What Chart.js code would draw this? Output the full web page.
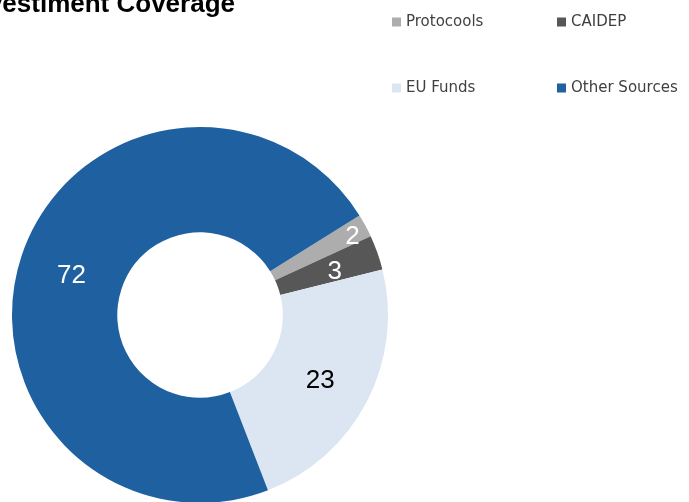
<!DOCTYPE html>
<html>
<head>
<meta charset="utf-8">
<script src="https://cdn.jsdelivr.net/npm/chart.js@4/dist/chart.umd.min.js"></script>
<style>
  html, body { margin: 0; padding: 0; background: #fff; overflow: hidden; }
  #wrap { position: relative; width: 689px; height: 506px; }
</style>
</head>
<body>
<div id="wrap"><canvas id="coverage"></canvas></div>
<script>
const categories = ['Protocools', 'CAIDEP', 'EU Funds', 'Other Sources']
const shares = [2, 3, 23, 72]
const sliceColors = ['#adadad', '#575757', '#dce6f2', '#1f61a0']
const labelColors = ['#ffffff', '#ffffff', '#000000', '#ffffff']
// where each value sits across the ring (0 = inner edge, 1 = outer edge)
const labelDepth = [0.86, 0.57, 0.5, 0.5]

const titleText = 'Investiment Coverage'

// bold heading, right end at x=235, runs off the left edge
const titlePlugin = {
    id: 'titleText',
    afterDraw: (chart) => {
        const ctx = chart.ctx
        ctx.save()
        ctx.font = 'bold 26px "Liberation Sans"'
        ctx.fillStyle = '#000'
        ctx.textAlign = 'right'
        ctx.textBaseline = 'alphabetic'
        ctx.fillText(titleText, 235, 12)
        ctx.restore()
    }
}

// two-column legend in the top right corner
const gridLegend = {
    id: 'gridLegend',
    afterDraw: (chart) => {
        const ctx = chart.ctx
        const colX = [392, 557]
        const rowY = [22, 88]
        ctx.save()
        ctx.font = '15px "DejaVu Sans"'
        ctx.textBaseline = 'middle'
        ctx.textAlign = 'left'
        chart.data.labels.forEach((label, i) => {
            const x = colX[i % 2]
            const y = rowY[Math.floor(i / 2)]
            ctx.fillStyle = chart.data.datasets[0].backgroundColor[i]
            ctx.fillRect(x, y - 4.5, 9, 9)
            ctx.fillStyle = '#404040'
            ctx.fillText(label, x + 14, y)
        })
        ctx.restore()
    }
}

// value labels on the slices
const sliceLabels = {
    id: 'sliceLabels',
    afterDatasetsDraw: (chart) => {
        const ctx = chart.ctx
        const meta = chart.getDatasetMeta(0)
        const values = chart.data.datasets[0].data
        ctx.save()
        ctx.font = '26px "Liberation Sans"'
        ctx.textAlign = 'center'
        ctx.textBaseline = 'middle'
        meta.data.forEach((arc, i) => {
            const p = arc.getProps(['x', 'y', 'startAngle', 'endAngle', 'innerRadius', 'outerRadius'], true)
            const mid = (p.startAngle + p.endAngle) / 2
            const r = p.innerRadius + (p.outerRadius - p.innerRadius) * labelDepth[i]
            ctx.fillStyle = labelColors[i]
            ctx.fillText(String(values[i]), p.x + Math.cos(mid) * r, p.y + Math.sin(mid) * r + 4)
        })
        ctx.restore()
    }
}

const data = {
    labels: categories,
    datasets: [
        {
            data: shares,
            backgroundColor: sliceColors,
            borderWidth: 0,
        }
    ]
}

const options = {
    responsive: true,
    maintainAspectRatio: false,
    animation: false,
    cutout: '44%',
    rotation: 58,
    layout: {
        padding: { left: 12, top: 127, right: 301, bottom: 3 }
    },
    plugins: {
        legend: { display: false },
        tooltip: { enabled: false },
        title: { display: false },
    },
}

const coverageDoc = document.getElementById('coverage')
const coverageChart = new Chart(coverageDoc, {
    type: 'doughnut',
    data: data,
    options: options,
    plugins: [titlePlugin, gridLegend, sliceLabels],
})
</script>
</body>
</html>
